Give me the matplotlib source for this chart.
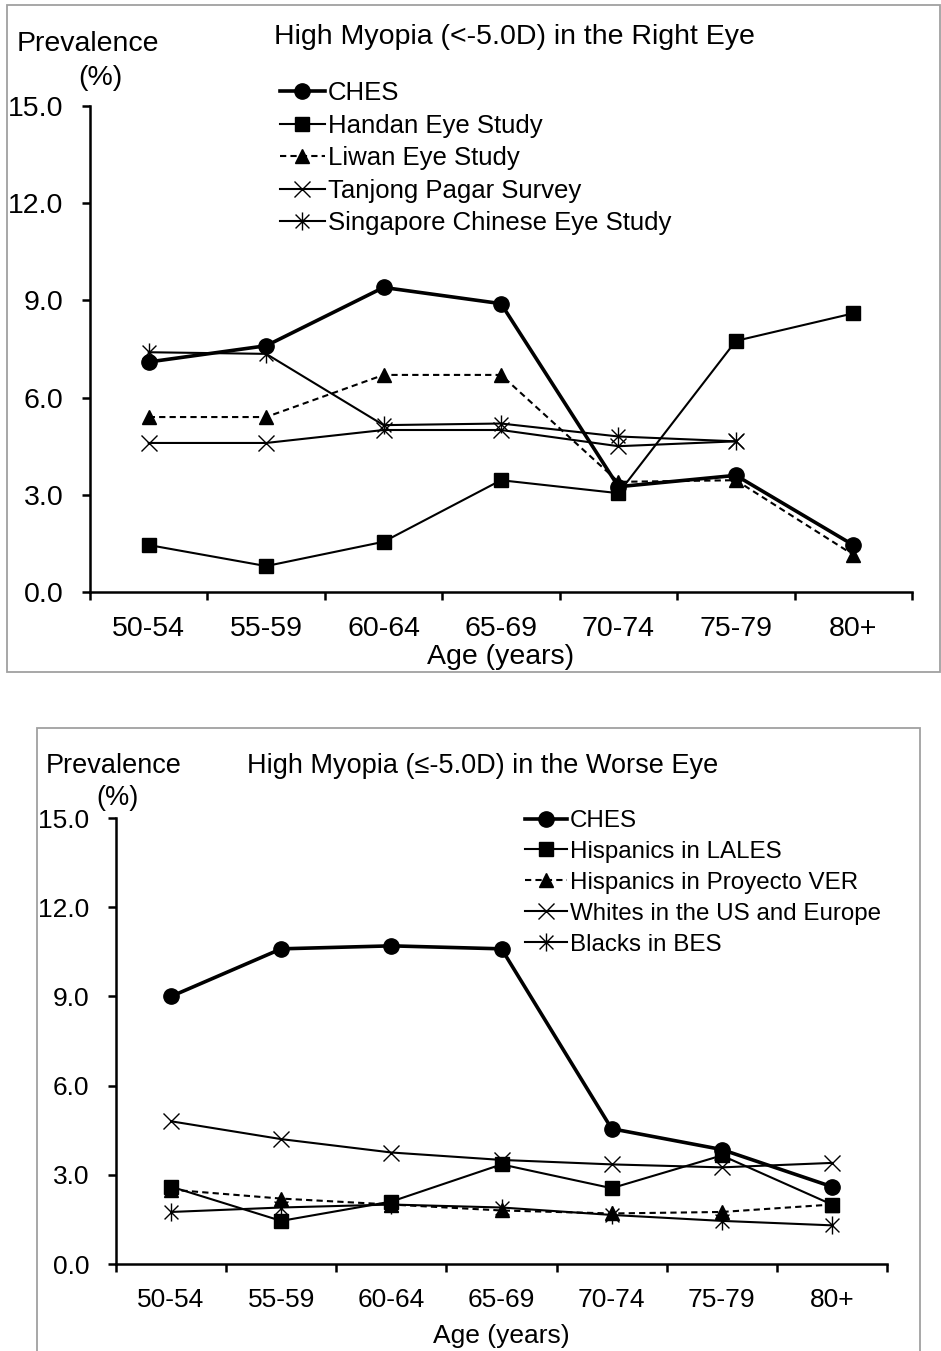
import matplotlib
matplotlib.use("Agg")
import matplotlib.pyplot as plt
import numpy as np
from matplotlib.path import Path
from matplotlib.patches import Rectangle

plt.rcParams["font.family"] = ["Liberation Sans", "DejaVu Sans"]

W, H = 941, 1351

AGE_GROUPS = ["50-54", "55-59", "60-64", "65-69", "70-74", "75-79", "80+"]
Y_TICKS = [0.0, 3.0, 6.0, 9.0, 12.0, 15.0]

# high myopia (<-5.0D), right eye
RIGHT_LABELS = ["CHES", "Handan Eye Study", "Liwan Eye Study",
                "Tanjong Pagar Survey", "Singapore Chinese Eye Study"]
RIGHT_CHES = [7.1, 7.6, 9.4, 8.9, 3.25, 3.6, 1.45]
RIGHT_HANDAN = [1.45, 0.8, 1.55, 3.45, 3.05, 7.75, 8.6]
RIGHT_LIWAN = [5.4, 5.4, 6.7, 6.7, 3.4, 3.45, 1.15]
RIGHT_TANJONG = [4.6, 4.6, 5.0, 5.0, 4.5, 4.65, np.nan]
RIGHT_SCES = [7.4, 7.35, 5.15, 5.2, 4.8, 4.65, np.nan]

# high myopia (<=-5.0D), worse eye
WORSE_LABELS = ["CHES", "Hispanics in LALES", "Hispanics in Proyecto VER",
                "Whites in the US and Europe", "Blacks in BES"]
WORSE_CHES = [9.0, 10.6, 10.7, 10.6, 4.55, 3.85, 2.6]
WORSE_LALES = [2.6, 1.45, 2.1, 3.35, 2.55, 3.65, 2.0]
WORSE_VER = [2.5, 2.2, 2.0, 1.8, 1.7, 1.75, 2.0]
WORSE_WHITES = [4.8, 4.2, 3.75, 3.5, 3.35, 3.25, 3.4]
WORSE_BES = [1.75, 1.9, 2.0, 1.9, 1.65, 1.45, 1.3]

# excel style "star": an x with a vertical bar
STAR = Path([(-1, -1), (1, 1), (-1, 1), (1, -1), (0, -1.3), (0, 1.3)],
            [Path.MOVETO, Path.LINETO, Path.MOVETO, Path.LINETO, Path.MOVETO, Path.LINETO])

STYLES = [
    dict(marker="o", ls="-", lw=2.6, ms=11),
    dict(marker="s", ls="-", lw=1.5, ms=10),
    dict(marker="^", ls=(0, (3, 2)), lw=1.5, ms=10),
    dict(marker="x", ls="-", lw=1.5, ms=11, mew=1.0),
    dict(marker=STAR, ls="-", lw=1.5, ms=13, mew=1.0),
]


def px(x, y):
    return x / W, 1 - y / H


def panel(fig, box, series, labels, fs, lfs, leg_xy, lspace, xlpad, texts):
    x0, y0, x1, y1 = box
    ax = fig.add_axes([x0 / W, 1 - y1 / H, (x1 - x0) / W, (y1 - y0) / H])
    x = np.arange(len(AGE_GROUPS))
    handles = []
    for vals, st in zip(series, STYLES):
        h, = ax.plot(x, vals, color="black", marker=st["marker"], linestyle=st["ls"],
                     linewidth=st["lw"], markersize=st["ms"],
                     markeredgewidth=st.get("mew", 1.0), markerfacecolor="black")
        handles.append(h)
    ax.set_xlim(-0.5, len(AGE_GROUPS) - 0.5)
    ax.set_ylim(0, 15)
    ax.set_yticks(Y_TICKS)
    ax.set_yticklabels([f"{v:.1f}" for v in Y_TICKS], fontsize=fs)
    ax.set_xticks(np.arange(len(AGE_GROUPS) + 1) - 0.5)
    ax.set_xticklabels([])
    ax.set_xticks(x, minor=True)
    ax.set_xticklabels(AGE_GROUPS, minor=True, fontsize=fs)
    ax.tick_params(axis="x", which="minor", length=0, pad=17)
    ax.tick_params(axis="x", which="major", length=6, width=1.8, direction="out")
    ax.tick_params(axis="y", length=6, width=1.8, direction="out", pad=13)
    for s in ("top", "right"):
        ax.spines[s].set_visible(False)
    for s in ("left", "bottom"):
        ax.spines[s].set_linewidth(1.8)
    ax.set_xlabel("Age (years)", fontsize=fs, labelpad=xlpad)
    ax.legend(handles, labels, loc="upper left", bbox_to_anchor=px(*leg_xy),
              bbox_transform=fig.transFigure, frameon=False, borderpad=0,
              borderaxespad=0, handlelength=1.75, handletextpad=0.1,
              labelspacing=lspace, fontsize=lfs)
    for tx, ty, s, size in texts:
        fig.text(*px(tx, ty), s, fontsize=size, ha="left", va="center")
    return ax


fig = plt.figure(figsize=(W / 100, H / 100), dpi=100)

fig.patches.append(Rectangle(px(7, 672), (940 - 7) / W, (672 - 5) / H, transform=fig.transFigure,
                             fill=False, edgecolor="#a0a0a0", linewidth=1.3))
fig.patches.append(Rectangle(px(37, 1360), (920 - 37) / W, (1360 - 728) / H, transform=fig.transFigure,
                             fill=False, edgecolor="#a0a0a0", linewidth=1.3))

panel(fig, (90, 106, 912, 592),
      [RIGHT_CHES, RIGHT_HANDAN, RIGHT_LIWAN, RIGHT_TANJONG, RIGHT_SCES],
      RIGHT_LABELS, 20.5, 18.5, (280, 81), 0.335, 2,
      [(17, 44, "Prevalence", 20.5), (78, 78, "(%)", 20.5),
       (274, 37, "High Myopia (<-5.0D) in the Right Eye", 20.5)])

panel(fig, (116, 818, 887, 1264),
      [WORSE_CHES, WORSE_LALES, WORSE_VER, WORSE_WHITES, WORSE_BES],
      WORSE_LABELS, 19, 17.4, (525, 810), 0.37, 9,
      [(46, 766, "Prevalence", 19.5), (96, 798, "(%)", 19.5),
       (247, 766, "High Myopia (\u2264-5.0D) in the Worse Eye", 19.5)])

fig.savefig("out.png", dpi=100)
